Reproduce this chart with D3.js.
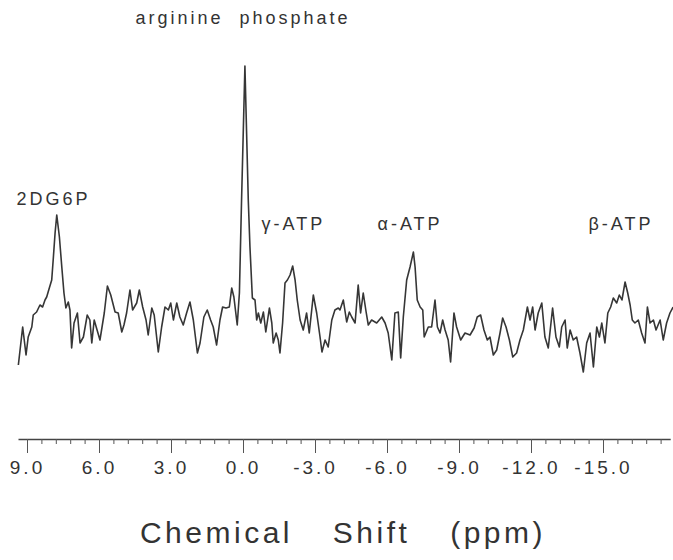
<!DOCTYPE html>
<html>
<head>
<meta charset="utf-8">
<script src="https://cdn.jsdelivr.net/npm/d3@7"></script>
<style>
  body { margin: 0; background: #fff; }
  text { font-family: "Liberation Sans", Arial, sans-serif; fill: #333; }
</style>
</head>
<body>
<svg width="673" height="560"></svg>
<script>
var ppm = [
  9.36, 9.18, 9.04, 8.95, 8.80, 8.74, 8.60, 8.46, 8.35, 8.25,
  8.18, 8.07, 7.97, 7.90, 7.83, 7.76, 7.65, 7.55, 7.46, 7.38,
  7.28, 7.21, 7.14, 7.04, 6.90, 6.79, 6.65, 6.49, 6.38, 6.30,
  6.20, 5.96, 5.78, 5.65, 5.51, 5.33, 5.20, 5.05, 4.96, 4.85,
  4.71, 4.60, 4.43, 4.32, 4.18, 4.04, 3.95, 3.80, 3.70, 3.53,
  3.39, 3.25, 3.11, 3.01, 2.90, 2.76, 2.63, 2.49, 2.35, 2.21,
  2.07, 1.90, 1.79, 1.63, 1.49, 1.35, 1.24, 1.10, 0.96, 0.85,
  0.71, 0.57, 0.47, 0.38, 0.24, 0.15, 0.06, -0.08, -0.22, -0.29,
  -0.39, -0.50, -0.57, -0.64, -0.74, -0.85, -0.95, -1.10, -1.20, -1.26,
  -1.38, -1.47, -1.54, -1.65, -1.75, -1.85, -1.96, -2.07, -2.17, -2.26,
  -2.38, -2.51, -2.65, -2.76, -2.93, -3.07, -3.21, -3.29, -3.42, -3.55,
  -3.70, -3.83, -3.97, -4.04, -4.18, -4.32, -4.43, -4.53, -4.67, -4.80,
  -4.90, -5.01, -5.13, -5.22, -5.36, -5.57, -5.78, -5.92, -6.05, -6.20,
  -6.33, -6.47, -6.57, -6.68, -6.82, -6.96, -7.10, -7.17, -7.26, -7.38,
  -7.49, -7.55, -7.72, -7.86, -8.00, -8.10, -8.21, -8.32, -8.42, -8.55,
  -8.65, -8.79, -8.90, -9.07, -9.25, -9.46, -9.63, -9.76, -9.90, -10.04,
  -10.18, -10.29, -10.43, -10.57, -10.71, -10.82, -10.96, -11.10, -11.24, -11.40,
  -11.54, -11.68, -11.85, -11.96, -12.07, -12.17, -12.30, -12.45, -12.58, -12.72,
  -12.90, -13.04, -13.18, -13.28, -13.42, -13.51, -13.63, -13.76, -13.90, -14.04,
  -14.18, -14.32, -14.46, -14.60, -14.74, -14.85, -14.95, -15.08, -15.20, -15.32,
  -15.43, -15.57, -15.68, -15.79, -15.92, -16.03, -16.13, -16.22, -16.33, -16.47,
  -16.61, -16.75, -16.85, -16.96, -17.10, -17.21, -17.38, -17.51, -17.65, -17.79,
  -17.92
];

// signal intensity (arbitrary units) at each ppm above
var signal = [
  -35, 3, -25, -7, 3, 15, 18, 25, 23, 30,
  33, 42, 50, 73, 97, 115, 93, 63, 37, 22,
  28, 20, -18, 7, 17, -13, -7, 15, 10, -13,
  10, -10, 17, 44, 35, 18, 17, -2, 5, 17,
  40, 20, 27, 40, 23, 10, -5, 22, 15, -22,
  3, 23, 20, 27, 10, 27, 13, 5, 17, 28,
  10, -23, -13, 13, 20, 10, 3, -15, 10, 23,
  22, 23, 42, 33, 5, 37, 130, 264, 130, 83,
  32, 30, 10, 17, 7, 18, -2, 22, 7, -13,
  -3, -10, -23, 7, 47, 50, 55, 64, 50, 30,
  10, 0, 17, -3, 35, 17, -7, -22, -10, -17,
  10, 20, 22, 20, 30, 8, 18, 13, 7, 45,
  17, 37, 18, 5, 10, 7, 13, 7, -3, -30,
  17, 18, -28, 13, 50, 63, 78, 63, 30, 23,
  20, -7, 3, 3, 30, 3, -3, 10, 0, -10,
  -32, 17, 3, -10, -3, -5, 2, 13, 15, 0,
  -10, -7, -25, -20, -3, 12, 3, -10, -27, -23,
  -10, 0, 23, 10, 23, 0, 17, 27, -7, -18,
  22, -7, -17, 3, 10, -18, 0, -10, -7, -23,
  -42, -13, -3, -37, 3, -7, 7, -13, 17, 23,
  32, 27, 35, 30, 48, 37, 25, 10, 7, 10,
  -3, -13, 23, 7, 10, 0, 10, -10, 7, 17,
  23
];

var peakNames = ["2DG6P", "arginine  phosphate", "\u03b3-ATP", "\u03b1-ATP", "\u03b2-ATP"];
var peakPpm = [7.9, 0.0, -2.1, -6.96, -15.75];
var peakLevel = [125, 306, 100, 100, 100];

var majorTicks = [9, 6, 3, 0, -3, -6, -9, -12, -15];
var minorStep = 0.6;

var svg = d3.select("svg");

var x = d3.scaleLinear().domain([9.375, -17.8]).range([18, 670.2]);
var y = d3.scaleLinear().domain([0, 265]).range([330, 65]);

var pts = ppm.map(function (p, i) { return [p, signal[i]]; });

var line = d3.line()
  .x(function (d) { return x(d[0]); })
  .y(function (d) { return y(d[1]); });

svg.append("path")
  .datum(pts)
  .attr("d", line)
  .attr("fill", "none")
  .attr("stroke", "#363636")
  .attr("stroke-width", 1.6)
  .attr("stroke-linejoin", "round");

// peak labels
svg.append("g").selectAll("text")
  .data(peakNames)
  .enter()
  .append("text")
  .attr("x", function (d, i) { return x(peakPpm[i]); })
  .attr("y", function (d, i) { return y(peakLevel[i]); })
  .attr("text-anchor", "middle")
  .attr("font-size", "18px")
  .attr("letter-spacing", "3px")
  .style("white-space", "pre")
  .text(function (d) { return d; });

// axis: minor ticks then major ticks with labels
var minorTicks = d3.range(9, -17.5, -minorStep);
var axisY = 439;

svg.append("g")
  .attr("transform", "translate(0," + axisY + ")")
  .call(d3.axisBottom(x).tickValues(minorTicks).tickSize(5).tickSizeOuter(0).tickFormat(""))
  .call(function (g) {
    g.select(".domain").attr("stroke", "#444").attr("stroke-width", 1.3);
    g.selectAll(".tick line").attr("stroke", "#555");
  });

svg.append("g")
  .attr("transform", "translate(0," + axisY + ")")
  .call(d3.axisBottom(x).tickValues(majorTicks).tickSize(14).tickSizeOuter(0).tickPadding(8)
    .tickFormat(function (d) { return (d < 0 ? "-" : "") + Math.abs(d).toFixed(1); }))
  .call(function (g) {
    g.select(".domain").remove();
    g.selectAll(".tick line").attr("stroke", "#555");
    g.selectAll(".tick text")
      .attr("font-family", "Liberation Sans, Arial, sans-serif")
      .attr("font-size", "19px")
      .attr("letter-spacing", "3px")
      .attr("fill", "#333");
  });

svg.append("text")
  .attr("x", 343)
  .attr("y", 543)
  .attr("text-anchor", "middle")
  .attr("font-family", "DejaVu Sans, sans-serif")
  .attr("font-size", "30px")
  .attr("letter-spacing", "3.5px")
  .attr("word-spacing", "28px")
  .text("Chemical Shift (ppm)");
</script>
</body>
</html>
